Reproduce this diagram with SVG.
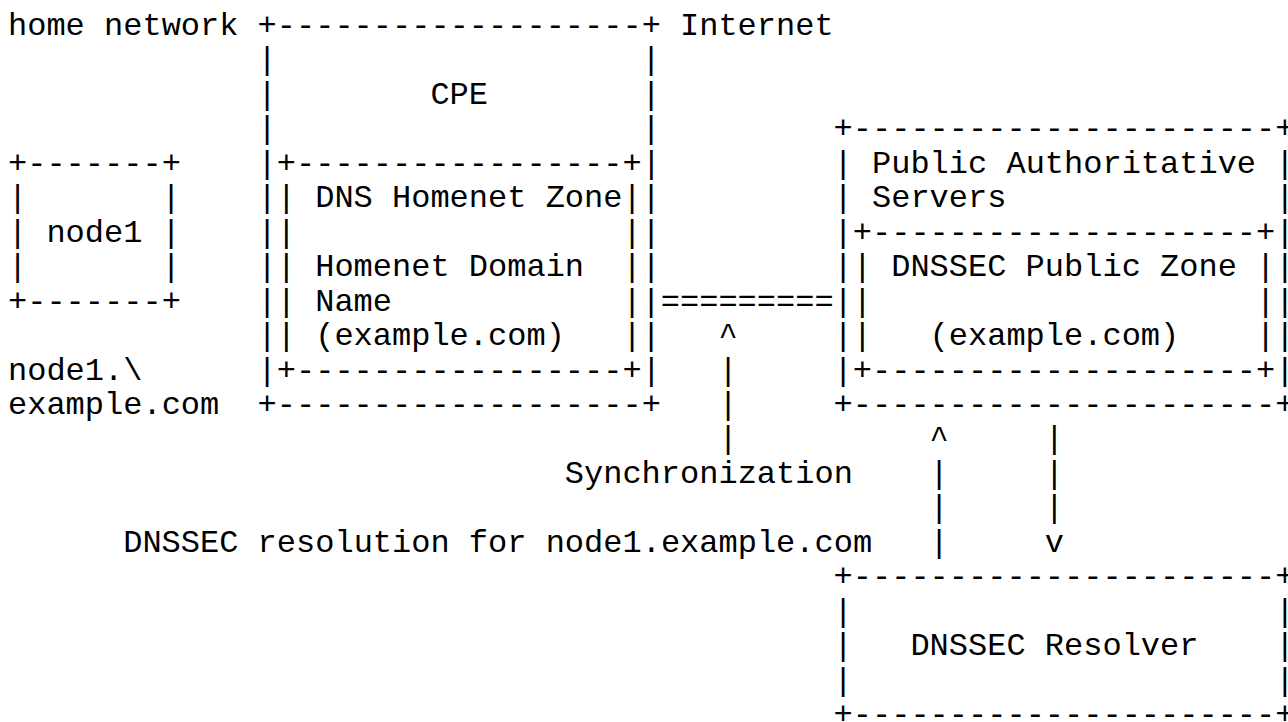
<svg xmlns="http://www.w3.org/2000/svg" width="1288" height="722" viewBox="0 0 1288 722">
  <style>
    /* monospace grid: 19.2px per column (column 0 at x=8), 34.45px per row (row 0 baseline at y=35) */
    text { font-family: "Liberation Mono", "Courier New", monospace; font-size: 32px; fill: #000; }
  </style>
  <rect width="1288" height="722" fill="#fff"/>

  <!-- free labels -->
  <g id="labels">
    <text x="8" y="35">home network</text>
    <text x="680" y="35">Internet</text>
    <text x="8" y="379.5">node1.\</text>
    <text x="8" y="413.95">example.com</text>
  </g>

  <!-- node1 -->
  <g id="node1">
    <text x="8" y="172.8">+-------+</text>
    <text x="8" y="207.25">|</text><text x="161.6" y="207.25">|</text>
    <text x="8" y="241.7">|</text><text x="161.6" y="241.7">|</text>
    <text x="46.4" y="241.7">node1</text>
    <text x="8" y="276.15">|</text><text x="161.6" y="276.15">|</text>
    <text x="8" y="310.6">+-------+</text>
  </g>

  <!-- CPE with the DNS Homenet Zone inside -->
  <g id="cpe">
    <text x="257.6" y="35">+-------------------+</text>
    <text x="257.6" y="69.45">|</text><text x="641.6" y="69.45">|</text>
    <text x="257.6" y="103.9">|</text><text x="641.6" y="103.9">|</text>
    <text x="430.4" y="103.9">CPE</text>
    <text x="257.6" y="138.35">|</text><text x="641.6" y="138.35">|</text>
    <text x="257.6" y="172.8">|+-----------------+|</text>
    <text x="257.6" y="207.25">||</text>
    <text x="315.2" y="207.25">DNS Homenet Zone</text>
    <text x="622.4" y="207.25">||</text>
    <text x="257.6" y="241.7">||</text><text x="622.4" y="241.7">||</text>
    <text x="257.6" y="276.15">||</text><text x="622.4" y="276.15">||</text>
    <text x="315.2" y="276.15">Homenet Domain</text>
    <text x="257.6" y="310.6">||</text><text x="622.4" y="310.6">||</text>
    <text x="315.2" y="310.6">Name</text>
    <text x="257.6" y="345.05">||</text><text x="622.4" y="345.05">||</text>
    <text x="315.2" y="345.05">(example.com)</text>
    <text x="257.6" y="379.5">|+-----------------+|</text>
    <text x="257.6" y="413.95">+-------------------+</text>
  </g>

  <!-- Public Authoritative Servers with the DNSSEC Public Zone inside -->
  <g id="public-servers">
    <text x="833.6" y="138.35">+----------------------+</text>
    <text x="833.6" y="172.8">|</text><text x="1275.2" y="172.8">|</text>
    <text x="872" y="172.8">Public Authoritative</text>
    <text x="833.6" y="207.25">|</text><text x="1275.2" y="207.25">|</text>
    <text x="872" y="207.25">Servers</text>
    <text x="833.6" y="241.7">|+--------------------+|</text>
    <text x="833.6" y="276.15">||</text><text x="1256" y="276.15">||</text>
    <text x="891.2" y="276.15">DNSSEC Public Zone</text>
    <text x="833.6" y="310.6">||</text><text x="1256" y="310.6">||</text>
    <text x="833.6" y="345.05">||</text><text x="1256" y="345.05">||</text>
    <text x="929.6" y="345.05">(example.com)</text>
    <text x="833.6" y="379.5">|+--------------------+|</text>
    <text x="833.6" y="413.95">+----------------------+</text>
  </g>

  <!-- DNSSEC Resolver -->
  <g id="resolver">
    <text x="833.6" y="586.2">+----------------------+</text>
    <text x="833.6" y="620.65">|</text><text x="1275.2" y="620.65">|</text>
    <text x="833.6" y="655.1">|</text><text x="1275.2" y="655.1">|</text>
    <text x="910.4" y="655.1">DNSSEC Resolver</text>
    <text x="833.6" y="689.55">|</text><text x="1275.2" y="689.55">|</text>
    <text x="833.6" y="724">+----------------------+</text>
  </g>

  <!-- connectors -->
  <g id="connectors">
    <!-- zone synchronization between the CPE and the public servers -->
    <text x="660.8" y="310.6">=========</text>
    <text x="718.4" y="345.05">^</text>
    <text x="718.4" y="379.5">|</text>
    <text x="718.4" y="413.95">|</text>
    <text x="718.4" y="448.4">|</text>
    <text x="564.8" y="482.85">Synchronization</text>
    <!-- resolution query up, answer down -->
    <text x="929.6" y="448.4">^</text>
    <text x="929.6" y="482.85">|</text>
    <text x="929.6" y="517.3">|</text>
    <text x="929.6" y="551.75">|</text>
    <text x="1044.8" y="448.4">|</text>
    <text x="1044.8" y="482.85">|</text>
    <text x="1044.8" y="517.3">|</text>
    <text x="1044.8" y="551.75">v</text>
    <text x="123.2" y="551.75">DNSSEC resolution for node1.example.com</text>
  </g>
</svg>
